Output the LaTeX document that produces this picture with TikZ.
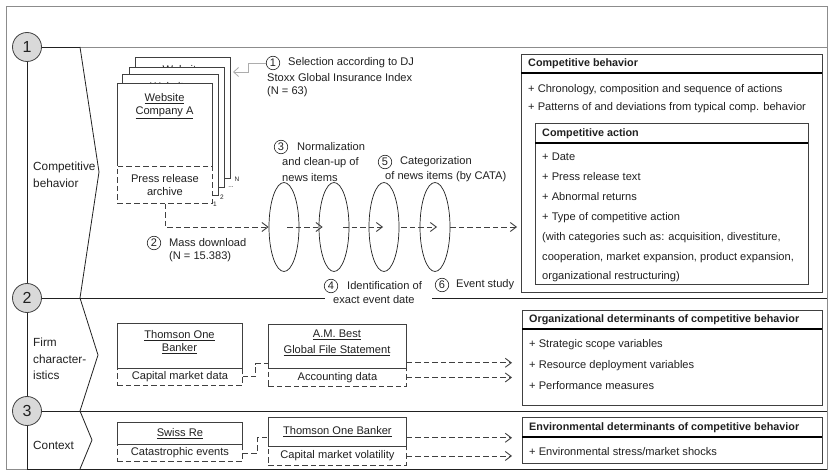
\documentclass[tikz,border=0pt]{standalone}
\usepackage{fontspec}
\setmainfont{Liberation Sans}
\usetikzlibrary{shapes.geometric,arrows.meta}

\definecolor{framegray}{gray}{0.55}
\definecolor{ink}{gray}{0.13}
\definecolor{boxline}{gray}{0.25}
\definecolor{bubble}{gray}{0.85}
\definecolor{pointer}{gray}{0.68}

\tikzset{
  lbl/.style={font=\fontsize{11.1}{13}\selectfont, inner sep=0pt, anchor=west, text=ink},
  sect/.style={font=\fontsize{11.8}{16.5}\selectfont, inner sep=0pt, anchor=west, align=left, text=ink},
  head/.style={font=\fontsize{10.8}{12}\selectfont\bfseries, inner sep=0pt, anchor=west, text=ink},
  bignum/.style={circle, draw=boxline, fill=bubble, minimum size=29, inner sep=0pt,
    font=\fontsize{16}{16}\selectfont, line width=0.8, text=ink},
  num/.style={circle, draw=ink, minimum size=13.5, inner sep=0pt,
    font=\fontsize{11}{11}\selectfont, line width=0.6, text=ink},
  sheet/.style={draw=boxline, line width=0.8, fill=white, inner sep=0pt, anchor=north west,
    align=center, font=\fontsize{11.1}{13}\selectfont, text=ink},
  dsh/.style={dash pattern=on 5.5pt off 3pt, line width=0.9, draw=boxline},
  dbox/.style={dsh, inner sep=0pt, anchor=north west, align=center,
    font=\fontsize{11.1}{13}\selectfont, text=ink},
  dar/.style={dsh, -{Straight Barb[length=6pt,width=9pt]}},
  hrule/.style={line width=1.3, draw=black},
  oval/.style={ellipse, draw=ink, line width=0.7, minimum width=30, minimum height=89, inner sep=0pt},
  stackno/.style={font=\fontsize{6.5}{6.5}\selectfont, inner sep=0pt, text=ink},
  secline/.style={draw=ink, line width=0.9},
  title/.style={lbl, anchor=center, align=center},
}

\begin{document}
\begin{tikzpicture}[x=1pt,y=-1pt]
\fill[white] (0,0) rectangle (831,473);
\useasboundingbox (0,0) rectangle (831,473);

% outer frame
\draw[framegray, line width=0.9] (6,6) rectangle (827,469);

% section markers and dividers
\node[bignum] (c1) at (27,47) {1};
\node[bignum] (c2) at (27,298) {2};
\node[bignum] (c3) at (27,411) {3};
\draw[secline] (c1.south) -- (c2.north);
\draw[secline] (c2.south) -- (c3.north);
\draw[secline] (c3.south) -- (27,469) -- (827,469);
\draw[secline] (c1.east) -- (80,47);
\draw[framegray, line width=0.9] (80,47) -- (827,47);
\draw[secline] (c2.east) -- (325,298);
\draw[secline] (432,298) -- (827,298);
\draw[secline] (c3.east) -- (827,411);
\draw[ink, line width=0.8] (80,47) -- (99,172) -- (80,298) -- (98,355) -- (80,411) -- (92,440) -- (80,469);

\node[sect] at (33,175) {Competitive\\behavior};
\node[sect] at (33,359) {Firm\\character-\\istics};
\node[sect] at (33,445) {Context};

% stack of company websites (back to front)
\node[sheet, minimum width=95, minimum height=121] (p4) at (135,57) {};
\node[title] at (182.5,78) {\underline{Website}\\\underline{Company A}};
\node[sheet, minimum width=95, minimum height=120] (p3) at (129,67) {};
\node[title] at (176.5,88) {\underline{Website}\\\underline{Company A}};
\node[sheet, minimum width=96, minimum height=121] (p2) at (122,74) {};
\node[title] at (170,95) {\underline{Website}\\\underline{Company A}};
\node[sheet, minimum width=95, minimum height=83] (p1) at (117,83) {};
\node[title] at (164.5,106) {\underline{Website}\\\underline{Company A}};
\node[dbox, fill=white, minimum width=95, minimum height=37] (arch) at (117,166) {Press release\\archive};

\node[stackno] at (237,179) {N};
\node[stackno] at (231,187) {...};
\node[stackno] at (222,197) {2};
\node[stackno] at (215,204) {1};

% step 1: selection
\node[num] (n1) at (273,63) {1};
\node[lbl] at (288,63) {Selection according to DJ};
\node[lbl] at (267,78) {Stoxx Global Insurance Index};
\node[lbl] at (267,92) {(N = 63)};
\coordinate (stackin) at (233,72);
\draw[pointer, line width=0.8, -{Straight Barb[length=5pt,width=9pt]}] (n1.west) -- (248,63) -- (248,72) -- (stackin);

% processing steps
\node[oval] (e1) at (284,227) {};
\node[oval] (e2) at (334,227) {};
\node[oval] (e3) at (384,227) {};
\node[oval] (e4) at (435,227) {};

\node[num] (n3) at (281,147) {3};
\node[lbl] at (297,147) {Normalization};
\node[lbl] at (282,162.5) {and clean-up of};
\node[lbl] at (282,178) {news items};

\node[num] (n5) at (385,162) {5};
\node[lbl] at (400,162) {Categorization};
\node[lbl] at (385,177) {of news items (by CATA)};

\node[num] (n2) at (154,243) {2};
\node[lbl] at (169,243) {Mass download};
\node[lbl] at (169,257) {(N = 15.383)};

\node[num] (n4) at (331,286) {4};
\node[lbl] at (347,286) {Identification of};
\node[lbl] at (333,300) {exact event date};

\node[num] (n6) at (442,285) {6};
\node[lbl] at (456,285) {Event study};

% competitive behavior box
\node[sheet, minimum width=301, minimum height=238] (cb) at (521,54) {};
\node[head] at (528,64) {Competitive behavior};
\draw[hrule] (521,73) -- (822,73);
\node[lbl] at (528,90) {+ Chronology, composition and sequence of actions};
\node[lbl] at (528,108) {+ Patterns of and deviations from typical comp. behavior};

\node[sheet, minimum width=273, minimum height=161] (ca) at (535,123) {};
\node[head] at (542,134) {Competitive action};
\draw[hrule] (535,143) -- (808,143);
\node[lbl] at (542,157) {+ Date};
\node[lbl] at (542,177) {+ Press release text};
\node[lbl] at (542,197) {+ Abnormal returns};
\node[lbl] at (542,218) {+ Type of competitive action};
\node[lbl] at (542,238) {(with categories such as: acquisition, divestiture,};
\node[lbl] at (542,258) {cooperation, market expansion, product expansion,};
\node[lbl] at (542,277) {organizational restructuring)};

% dataflow through the processing steps
\draw[dar] (arch.south) |- (e1.west);
\draw[dar] ([xshift=3pt]e1.center) -- ([xshift=4pt]e2.west);
\draw[dar] ([xshift=9pt]e2.center) -- ([xshift=-1pt]e3.center);
\draw[dar] ([xshift=2pt]e3.east) -- ([xshift=2pt]e4.center);
\draw[dar] (e4.east) -- ([xshift=-4pt]cb.west |- e4.east);

% firm characteristics
\node[sheet, minimum width=125, minimum height=45] (tob) at (117,323) {};
\node[title] at (179.5,342.5) {\underline{Thomson One}\\\underline{Banker}};
\node[dbox, minimum width=125, minimum height=17] (cmd) at (117,368) {Capital market data};

\node[sheet, minimum width=138, minimum height=44] (amb) at (268,324) {};
\node[title, font=\fontsize{11.1}{16}\selectfont] at (337,343) {\underline{A.M. Best}\\\underline{Global File Statement}};
\node[dbox, minimum width=138, minimum height=18] (acc) at (268,368) {Accounting data};

\draw[dsh] (cmd.east) -- ++(13,0) |- ([yshift=5pt]amb.south west);

\node[sheet, minimum width=300, minimum height=95] (org) at (522,310) {};
\node[head] at (529,320) {Organizational determinants of competitive behavior};
\draw[hrule] (522,329) -- (822,329);
\node[lbl] at (529,345) {+ Strategic scope variables};
\node[lbl] at (529,366) {+ Resource deployment variables};
\node[lbl] at (529,386) {+ Performance measures};

\coordinate (orgin) at ([xshift=-10pt]org.west);
\coordinate (a1) at ([yshift=6pt]amb.south east);
\draw[dar] (a1) -- (orgin |- a1);
\draw[dar] (acc.east) -- (orgin |- acc.east);

% context
\node[sheet, minimum width=125, minimum height=22] (swiss) at (117,422) {\underline{Swiss Re}};
\node[dbox, minimum width=125, minimum height=17] (cat) at (117,444) {Catastrophic events};

\node[sheet, minimum width=138, minimum height=29] (tob3) at (268,417) {\underline{Thomson One Banker}};
\node[dbox, minimum width=138, minimum height=19] (vol) at (268,446) {Capital market volatility};

\draw[dsh] (cat.east) -- ++(15,0) |- ([yshift=9pt]tob3.south west);

\node[sheet, minimum width=300, minimum height=46] (env) at (522,417) {};
\node[head] at (529,428) {Environmental determinants of competitive behavior};
\draw[hrule] (522,437) -- (822,437);
\node[lbl] at (529,452) {+ Environmental stress/market shocks};

\coordinate (envin) at ([xshift=-10pt]env.west);
\coordinate (b1) at ([yshift=9pt]tob3.south east);
\draw[dar] (b1) -- (envin |- b1);
\draw[dar] (vol.east) -- (envin |- vol.east);
\end{tikzpicture}
\end{document}
